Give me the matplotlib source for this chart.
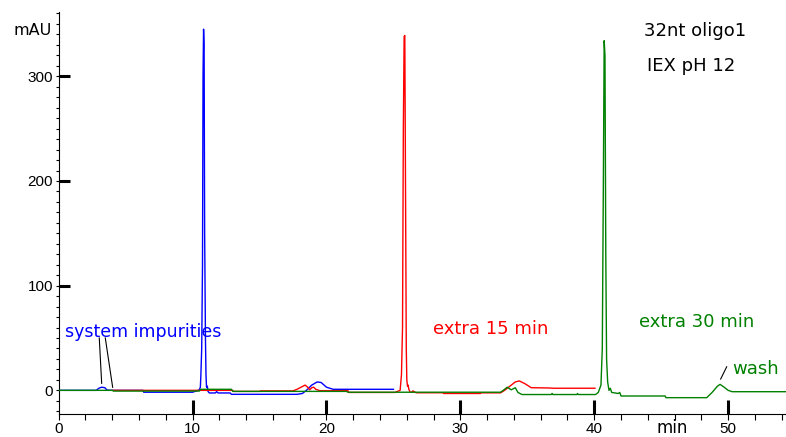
import matplotlib
matplotlib.use("Agg")
import matplotlib.pyplot as plt
from matplotlib.ticker import MultipleLocator

plt.rcParams['font.family'] = ['Liberation Sans', 'DejaVu Sans']

# ---------------- data (time in min, absorbance in mAU) ----------------
blue_t = [0.0, 2.8, 3.0, 3.2, 3.45, 3.6, 4.0, 6.3, 6.35, 10.0, 10.3, 10.5, 10.58,
          10.62, 10.68, 10.74, 10.78, 10.82, 10.86, 10.9, 10.96, 11.0, 11.04, 11.1,
          11.15, 11.25, 11.7, 11.8, 11.9, 12.8, 12.9, 17.8, 18.2, 18.5, 18.9, 19.3,
          19.6, 20.0, 20.5, 25.0]
blue_y = [0.0, 0.0, 2.0, 3.0, 2.5, 0.3, 0.0, 0.0, -1.8, -1.8, -0.5, 0.5, 3.0,
          15.0, 40.0, 120.0, 300.0, 345.0, 330.0, 150.0, 50.0, 15.0, 3.0, 4.0,
          -1.0, -2.5, -2.5, -1.2, -2.5, -2.5, -3.8, -3.8, -3.0, 0.0, 5.0, 8.0,
          7.5, 3.0, 1.0, 1.0]

red_t = [4.0, 13.0, 13.05, 15.0, 15.05, 17.5, 17.8, 18.1, 18.4, 18.6, 18.75, 18.9,
         19.05, 19.2, 19.5, 21.6, 21.65, 25.1, 25.3, 25.5, 25.6, 25.68, 25.74, 25.8,
         25.85, 25.9, 25.96, 26.0, 26.05, 26.1, 26.15, 26.25, 26.4, 26.45, 26.7,
         28.7, 28.75, 31.5, 31.55, 33.0, 33.3, 33.7, 34.1, 34.4, 34.8, 35.3, 36.5,
         37.0, 40.05]
red_y = [0.0, 0.0, -1.0, -1.0, -0.5, -0.5, 1.0, 3.0, 5.0, 3.0, 0.5, 2.5,
         3.0, 1.0, -0.3, -0.3, -2.0, -2.0, -1.0, 0.0, 15.0, 60.0, 250.0, 338.0,
         339.0, 200.0, 40.0, 10.0, 4.0, 5.0, 1.0, -1.7, -1.7, -0.5, -2.3,
         -2.3, -3.0, -3.0, -2.4, -2.4, 0.0, 4.0, 8.0, 9.0, 6.5, 2.5, 2.3,
         2.0, 2.0]

green_t = [0.0, 4.0, 4.1, 10.5, 10.6, 12.9, 13.0, 21.5, 21.6, 33.0, 33.2, 33.5,
           33.8, 34.1, 34.3, 34.6, 36.8, 36.85, 36.9, 38.7, 38.75, 38.8, 40.1,
           40.3, 40.5, 40.6, 40.68, 40.74, 40.8, 40.86, 40.92, 41.0, 41.1, 41.2,
           41.3, 41.8, 41.9, 42.0, 45.3, 45.35, 48.4, 48.8, 49.2, 49.4, 49.7,
           50.0, 50.3, 54.3]
green_y = [0.0, 0.0, -0.7, -0.7, 1.0, 1.0, -1.0, -1.0, -1.8, -1.8, 0.0, 3.0,
           0.5, 2.5, -2.0, -4.0, -4.0, -3.0, -4.0, -4.0, -3.0, -4.0, -4.0,
           -2.0, 5.0, 40.0, 200.0, 334.0, 320.0, 130.0, 30.0, 8.0, 0.0, 2.0,
           -2.0, -3.0, -2.0, -5.4, -5.4, -7.0, -7.0, -2.0, 4.0, 5.7, 3.0,
           0.0, -1.3, -1.3]

x_ticks = [0, 10, 20, 30, 40, 50]
x_labels = ["0", "10", "20", "30", "40", "50"]
y_ticks = [0, 100, 200, 300]
y_labels = ["0", "100", "200", "300"]

BLUE, RED, GREEN = "#0000ff", "#ff0000", "#008000"

W, H = 786, 437
fig = plt.figure(figsize=(W / 100, H / 100), dpi=100)
ax = fig.add_axes([58.7 / W, 1 - 414 / H, 1 - 58.7 / W, (414 - 11.7) / H])

ax.plot(blue_t, blue_y, color=BLUE, lw=1.0, zorder=2)
ax.plot(red_t, red_y, color=RED, lw=1.0, zorder=3)
ax.plot(green_t, green_y, color=GREEN, lw=1.0, zorder=4)

ax.set_xlim(0, 54.32)
ax.set_ylim(-22.6, 361.7)

for s in ("top", "right"):
    ax.spines[s].set_visible(False)
ax.spines["left"].set_linewidth(0.8)
ax.spines["bottom"].set_linewidth(0.8)

ax.set_xticks(x_ticks)
ax.set_xticklabels(x_labels)
ax.set_yticks(y_ticks)
ax.set_yticklabels(y_labels)
ax.xaxis.set_minor_locator(MultipleLocator(2))
ax.yaxis.set_minor_locator(MultipleLocator(10))
ax.xaxis.remove_overlapping_locs = False
ax.yaxis.remove_overlapping_locs = False

ax.tick_params(axis="x", which="major", direction="in", length=10, width=2.2,
               pad=6, labelsize=11)
ax.tick_params(axis="x", which="minor", direction="out", length=4, width=0.8)
ax.tick_params(axis="y", which="major", direction="in", length=8, width=2.2,
               pad=4, labelsize=11)
ax.tick_params(axis="y", which="minor", direction="out", length=2.5, width=0.8)
ax.xaxis.get_major_ticks()[0].tick1line.set_visible(False)
ax.yaxis.get_major_ticks()[0].tick1line.set_visible(False)

# annotation leader lines
ax.plot([3.03, 3.21], [50, 6.7], color="black", lw=0.8, zorder=5)
ax.plot([3.48, 4.03], [50, 2.9], color="black", lw=0.8, zorder=5)
ax.plot([49.89, 49.44], [22.5, 10.8], color="black", lw=0.8, zorder=5)


def ftext(x, y, s, **kw):
    fig.text(x / W, 1 - y / H, s, **kw)


DJ = ["DejaVu Sans"]
ftext(13.3, 35, "mAU", fontsize=11.5, family=DJ, va="baseline")
ftext(656, 433, "min", fontsize=12, family=DJ, va="baseline")
ftext(644, 36, "32nt oligo1", fontsize=13, family=DJ, va="baseline")
ftext(646.7, 71, "IEX pH 12", fontsize=13, family=DJ, va="baseline")
ftext(65, 337.3, "system impurities", fontsize=12.5, family=DJ, color=BLUE, va="baseline")
ftext(432.7, 334.3, "extra 15 min", fontsize=13, family=DJ, color=RED, va="baseline")
ftext(639, 326.7, "extra 30 min", fontsize=13, family=DJ, color=GREEN, va="baseline")
ftext(732.7, 374.3, "wash", fontsize=13, family=DJ, color=GREEN, va="baseline")

fig.savefig("out.png", dpi=100)
